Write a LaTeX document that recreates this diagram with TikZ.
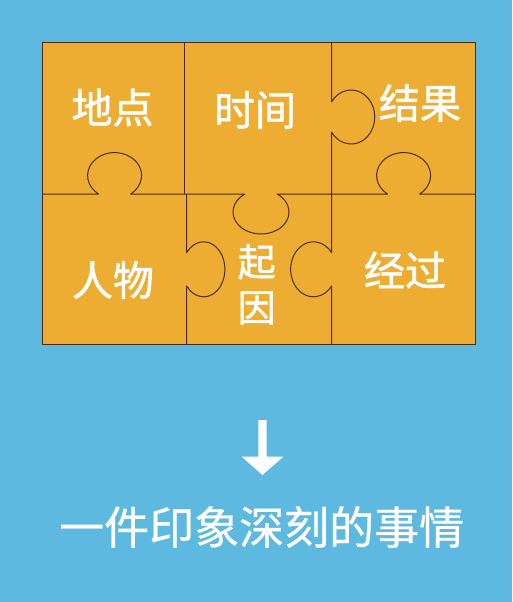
\documentclass[tikz,border=0pt]{standalone}
\usepackage{fontspec}
\newfontfamily\cjk[FakeBold=1.3]{Noto Sans CJK SC}
\newfontfamily\cjktitle[FakeBold=0.6]{Noto Sans CJK SC}
\definecolor{bgblue}{HTML}{5DB9DF}
\definecolor{puzzle}{HTML}{EDAD32}
\definecolor{edge}{HTML}{4E2A0E}
\begin{document}
\begin{tikzpicture}[x=1pt,y=-1pt,
  cut/.style={draw=edge,line width=1pt,line join=round},
  lbl/.style={text=white,inner sep=0pt,font=\cjk\fontsize{41}{46}\selectfont},
  title/.style={text=white,inner sep=0pt,font=\cjktitle\fontsize{45}{50}\selectfont}]
\fill[bgblue] (0,0) rectangle (512,602);
\useasboundingbox (0,0) rectangle (512,602);
% board
\fill[puzzle] (42,43) rectangle (475.5,344);
% horizontal cut with knobs
\draw[cut] (42,194) -- (98.5,194)
  arc[start angle=126.6,end angle=413.4,x radius=27,y radius=23]
  -- (244.9,194)
  arc[start angle=234.9,end angle=-54.9,x radius=28,y radius=22]
  -- (387.5,194)
  arc[start angle=126.6,end angle=413.4,x radius=27,y radius=23]
  -- (475.5,194);
% vertical cuts
\draw[cut] (184,43) -- (184,194);
\draw[cut] (186.7,194) -- (186.7,252.6)
  arc[start angle=217.4,end angle=502.6,x radius=21.3,y radius=27.5]
  -- (186.7,344);
\draw[cut] (331.7,43) -- (331.7,101.7)
  arc[start angle=214.5,end angle=505.5,x radius=23.6,y radius=27]
  -- (331.7,194);
\draw[cut] (331.7,194) -- (331.7,252.6)
  arc[start angle=322.6,end angle=37.4,x radius=22.9,y radius=27.5]
  -- (331.7,344);
\draw[cut] (42,43) rectangle (475.5,344);
% labels
\node[lbl] (didian) at (112.5,107.5) {地点};
\node[lbl] (shijian) at (255,110) {时间};
\node[lbl] (jieguo) at (420,103) {结果};
\node[lbl] (renwu) at (113,280) {人物};
\node[lbl] (jingguo) at (405,270) {经过};
\node[lbl,font=\cjk\fontsize{38}{46}\selectfont] (qi) at (256.7,261.7) {起};
\node[lbl,font=\cjk\fontsize{38}{46}\selectfont] (yin) at (256.7,308) {因};
% arrow
\fill[white] (258.3,420) -- (266.7,420) -- (266.7,456.7) -- (283.3,456.7)
  -- (262.5,475) -- (241.7,456.7) -- (258.3,456.7) -- cycle;
\node[title] (result) at (261.7,527) {一件印象深刻的事情};
\end{tikzpicture}
\end{document}
